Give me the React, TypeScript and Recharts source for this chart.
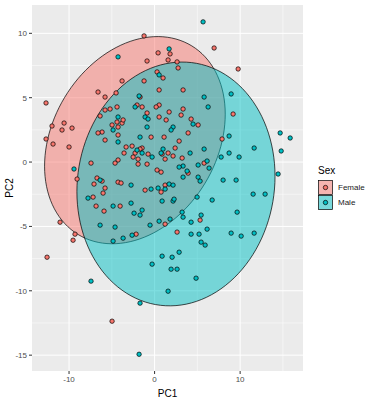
import { ScatterChart, Scatter, XAxis, YAxis, CartesianGrid } from 'recharts'

const FONT = '"Liberation Sans", Arial, sans-serif'

const femaleColor = '#F8766D'
const maleColor = '#00BFC4'

// PC scores
const femalePC1 = [
  -1.23, 0.41, -0.88, 0.29, -3.8, -1.23, -6.61, -5.79, -4.5, -1.7, -12.69, 0.53, 0.18, -4.39, -1.46, -2.05,
  -5.79, -5.2, -6.37, -0.88, -3.8, -3.68, -4.39, -4.97, -4.27, -11.99, -10.58, -10.82, -9.65, -6.14, -6.61,
  -5.79, -4.27, -12.69, -11.87, -10.0, -0.41, -2.63, -3.33, -1.46, -2.28, -2.51, -3.57, -0.76, -1.93, -4.27,
  -4.62, -7.43, -9.06, -6.73, -6.14, -7.08, -5.79, -4.27, -3.92, -1.11, 1.23, 0.76, -6.02, -7.19, -6.84,
  -4.03, -5.91, -2.16, 1.23, 2.63, 5.32, -11.05, -9.3, -9.53, -12.57, -4.97, -1.93, -0.88, 0.29, 0.76, 1.81,
  1.58, 2.63, 2.75, 0.99, 0.53, 3.33, 3.33, 1.7, 3.1, 0.53, 1.35, 9.18, 4.27, 5.09, 3.92, 7.89, 1.11, 2.87,
  2.4, -1.7, 0.88, 1.58, 2.16, 3.22, 1.23, 5.79, 3.92, 6.96, 9.77,
]
const femalePC2 = [
  9.8, 8.48, 7.85, 7.0, 6.3, 6.3, 5.44, 5.05, 5.37, 5.05, 4.59, 4.43, 4.28, 4.28, 4.28, 4.43,
  4.04, 4.12, 3.58, 3.81, 3.03, 3.27, 3.11, 2.88, 2.72, 2.8, 3.03, 2.49, 2.64, 2.33, 2.26,
  1.71, 2.1, 1.79, 1.4, 1.17, 1.94, 1.24, 1.17, 1.09, 0.7, 0.39, 0.7, 0.62, 0.23, 0.16,
  -0.08, -0.08, -1.32, -1.24, -1.48, -1.71, -2.02, -1.56, -1.63, -2.18, -1.79, -2.33, -2.41, -2.72, -3.42,
  -3.42, -3.81, -5.6, -4.82, -5.44, -4.51, -4.67, -5.6, -6.07, -7.39, -12.36, -0.16, -0.16, -0.62, -0.78, 8.4,
  7.93, 7.78, 7.31, 6.53, 5.6, 5.6, 4.12, 3.89, 3.65, 3.5, 3.27, 3.73, 3.34, 2.88, 2.26, 1.79, 1.94, 1.63,
  1.09, 1.01, 0.62, 0.7, 0.47, 0.31, 0.23, -0.08, -0.86, 8.86, 7.23,
]
const malePC1 = [
  5.67, -4.27, 1.7, 0.53, -2.28, -1.81, -1.11, -0.76, -4.27, -4.85, -0.88, -1.7, -2.05, -1.46, -0.29, -9.42,
  -6.37, -2.75, -0.41, 0.41, 1.23, 1.7, 2.16, -7.78, -2.75, -4.85, -2.4, -1.46, -1.7, 0.88, 2.16, -6.37,
  -4.62, -0.53, 0.53, 1.81, -2.63, -3.68, -4.85, 0.88, 2.05, -7.43, -1.7, -1.81, -0.29, 1.93, 2.63, 4.85,
  1.58, 2.87, 5.79, 6.26, 8.95, 4.5, 2.16, 1.93, 14.68, 15.85, 8.71, 11.64, 14.8, 5.79, 0.99, 0.76, 4.15,
  7.78, 8.71, 9.88, 6.14, 5.09, 3.33, 2.87, 6.37, 3.8, 3.33, 5.09, 5.32, 8.01, 9.53, 14.44, 11.52, 12.92,
  4.97, 6.73, 2.28, 9.65, 3.22, 3.33, 5.44, 4.27, 6.14, 4.27, 5.2, 5.44, 5.91, 8.95, 10.12, 11.64, -4.27,
]
const malePC2 = [
  10.89, 8.17, 8.79, 6.77, 4.28, 5.13, 3.5, 3.34, 3.5, 2.49, 2.72, 1.94, 0.93, 0.7, 0.39, -0.54,
  -1.4, -1.79, -2.1, -2.02, -2.1, -1.71, -1.79, -2.8, -3.19, -3.42, -3.97, -3.73, -4.12, -3.03, -3.03, -4.9,
  -5.05, -4.9, -4.59, -4.43, -5.68, -5.91, -6.14, -7.31, -7.39, -9.25, -10.96, -14.93, -7.93, -8.32, -8.32, -9.02,
  -10.03, -7.0, 5.05, 4.28, 5.29, 2.95, 2.72, 2.49, 2.26, 1.87, 2.02, 1.09, 0.86, 1.01, 1.01, 0.7, 0.7,
  0.39, 0.7, 0.39, 0.08, -0.23, -0.31, -0.39, -0.47, -0.7, -1.17, -1.17, -1.48, -1.4, -1.4, -0.93, -2.49, -2.49,
  -2.72, -2.95, -2.88, -3.89, -3.89, -4.28, -4.12, -4.67, -5.21, -5.6, -5.6, -6.22, -6.45, -5.52, -5.75, -5.52, 1.56,
]

// 95% ellipses: centre and lower-triangular shape factor
const femaleEllipse = { cx: -2.3, cy: 1.7, l11: 10.56, l21: 2.02, l22: 7.79 }
const maleEllipse = { cx: 2.5, cy: -1.7, l11: 11.58, l21: 0.6, l22: 9.45 }

const xTicks = [-10, 0, 10]
const yTicks = [-15, -10, -5, 0, 5, 10]
const xMinor = [-5, 5, 15]
const yMinor = [-12.5, -7.5, -2.5, 2.5, 7.5]

const toPoints = (xs: number[], ys: number[]) => xs.map((x, i) => ({ x, y: ys[i] }))

const ellipseOutline = (e: typeof femaleEllipse) => {
  const n = 120
  const pts = []
  for (let i = 0; i <= n; i++) {
    const t = (2 * Math.PI * i) / n
    pts.push({ x: e.cx + e.l11 * Math.cos(t), y: e.cy + e.l21 * Math.cos(t) + e.l22 * Math.sin(t) })
  }
  return pts
}

const femaleData = toPoints(femalePC1, femalePC2)
const maleData = toPoints(malePC1, malePC2)

const ellipsePath = (fill: string) => (props: any) => {
  const pts = props.points || []
  const d = pts.map((p: any, i: number) => `${i ? 'L' : 'M'}${p.x},${p.y}`).join('') + 'Z'
  return <path d={d} fill={fill} fillOpacity={0.5} stroke="#000" strokeWidth={0.7} />
}

const dot = (fill: string) => (props: any) => (
  <circle cx={props.cx} cy={props.cy} r={2.2} fill={fill} stroke="#000" strokeWidth={0.7} />
)

const legendItems = [
  { label: 'Female', color: femaleColor },
  { label: 'Male', color: maleColor },
]

function SexLegend() {
  return (
    <div style={{ position: 'absolute', left: 318, top: 165, fontFamily: FONT }}>
      <div style={{ fontSize: 10, lineHeight: '12px', marginBottom: 3, color: '#000' }}>Sex</div>
      {legendItems.map((it) => (
        <div key={it.label} style={{ display: 'flex', alignItems: 'center', height: 15 }}>
          <svg width={15} height={15} style={{ display: 'block' }}>
            <rect x={0.5} y={0.5} width={14} height={14} fill="#F2F2F2" />
            <rect x={0.5} y={0.5} width={14} height={14} fill={it.color} fillOpacity={0.5} stroke="#000" strokeWidth={0.7} />
            <circle cx={7.5} cy={7.5} r={2.2} fill={it.color} stroke="#000" strokeWidth={0.7} />
          </svg>
          <span style={{ fontSize: 8, marginLeft: 5, color: '#1A1A1A' }}>{it.label}</span>
        </div>
      ))}
    </div>
  )
}

export default function App() {
  return (
    <div style={{ position: 'absolute', left: 0, top: 0, width: 374, height: 400, background: '#fff', fontFamily: FONT }}>
      <ScatterChart width={374} height={400} margin={{ top: 5, right: 71, bottom: 0, left: 0 }}>
        <CartesianGrid
          fill="#EBEBEB"
          stroke="#fff"
          strokeWidth={0.5}
          verticalValues={xMinor}
          horizontalValues={yMinor}
        />
        <CartesianGrid stroke="#fff" strokeWidth={1} verticalValues={xTicks} horizontalValues={yTicks} />
        <XAxis
          type="number"
          dataKey="x"
          domain={[-14.33, 17.35]}
          ticks={xTicks}
          allowDataOverflow
          height={29}
          axisLine={false}
          tickSize={3}
          tickMargin={2}
          tickLine={{ stroke: '#333' }}
          tick={{ fontSize: 8, fill: '#4D4D4D' }}
          label={{ value: 'PC1', position: 'insideBottom', offset: 3, fontSize: 10, fill: '#000' }}
        />
        <YAxis
          type="number"
          dataKey="y"
          domain={[-16.23, 12.2]}
          ticks={yTicks}
          allowDataOverflow
          width={32}
          axisLine={false}
          tickSize={3}
          tickMargin={2}
          tickLine={{ stroke: '#333' }}
          tick={{ fontSize: 8, fill: '#4D4D4D' }}
          label={({ viewBox }: any) => (
            <text
              x={9}
              y={viewBox.y + viewBox.height / 2}
              transform={`rotate(-90 9 ${viewBox.y + viewBox.height / 2})`}
              textAnchor="middle"
              dominantBaseline="central"
              fontSize={10}
              fill="#000"
            >
              PC2
            </text>
          )}
        />
        <Scatter
          data={ellipseOutline(femaleEllipse)}
          line={ellipsePath(femaleColor)}
          lineType="joint"
          shape={() => <g />}
          legendType="none"
          isAnimationActive={false}
        />
        <Scatter
          data={ellipseOutline(maleEllipse)}
          line={ellipsePath(maleColor)}
          lineType="joint"
          shape={() => <g />}
          legendType="none"
          isAnimationActive={false}
        />
        <Scatter data={femaleData} shape={dot(femaleColor)} isAnimationActive={false} />
        <Scatter data={maleData} shape={dot(maleColor)} isAnimationActive={false} />
      </ScatterChart>
      <SexLegend />
    </div>
  )
}
